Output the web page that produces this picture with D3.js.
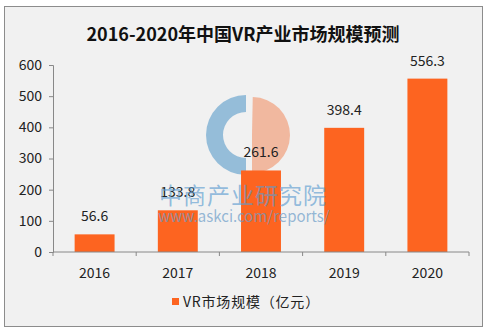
<!DOCTYPE html>
<html>
<head>
<meta charset="utf-8">
<script src="https://cdn.jsdelivr.net/npm/d3@7"></script>
<style>
  body { margin: 0; background: #fff; }
  text { font-family: "Noto Sans CJK SC", "Open Sans", sans-serif; }
</style>
</head>
<body>
<div id="chart"></div>
<script>
// Chart data
let years = ["2016", "2017", "2018", "2019", "2020"];
let marketSize = [56.6, 133.8, 261.6, 398.4, 556.3];
let yTicks = [0, 100, 200, 300, 400, 500, 600];
let titleText = "2016-2020年中国VR产业市场规模预测";
let legendText = "VR市场规模（亿元）";

let W = 489, H = 333;
let margin = {top: 65, right: 20, bottom: 81, left: 53};
let barColor = "#fd6420";

let svg = d3.select("#chart").append("svg")
    .attr("width", W)
    .attr("height", H);

// Outer frame
svg.append("rect")
    .attr("x", 4.5).attr("y", 6.5)
    .attr("width", 478).attr("height", 320)
    .attr("fill", "#f1f1f1")
    .attr("stroke", "#8c8c8c");

// Title
svg.append("text")
    .attr("x", 243).attr("y", 41)
    .attr("text-anchor", "middle")
    .attr("font-size", 18)
    .attr("font-weight", "bold")
    .attr("fill", "#111")
    .text(titleText);

// Scales
let x = d3.scaleBand()
    .domain(years)
    .range([margin.left, 469])
    .paddingInner(0.52)
    .paddingOuter(0.26);

let y = d3.scaleLinear()
    .domain([0, 600])
    .range([252, 65]);

// Watermark logo
let logo = svg.append("g").attr("transform", "translate(246,135)").attr("opacity", 0.7);
logo.append("path")
    .attr("d", d3.arc()({innerRadius: 23, outerRadius: 40, startAngle: Math.PI, endAngle: 2 * Math.PI}))
    .attr("fill", "#6fa8d0");
logo.append("path")
    .attr("transform", "translate(6,0)")
    .attr("d", d3.arc()({innerRadius: 0, outerRadius: 38, startAngle: 0.02, endAngle: Math.PI}))
    .attr("fill", "#f2a07d");

// Bars
svg.append("g").selectAll("rect")
    .data(marketSize)
    .enter().append("rect")
    .attr("x", (d, i) => x(years[i]))
    .attr("y", d => y(d))
    .attr("width", x.bandwidth())
    .attr("height", d => y(0) - y(d))
    .attr("fill", barColor);

// Value labels
svg.append("g").selectAll("text")
    .data(marketSize)
    .enter().append("text")
    .attr("x", (d, i) => x(years[i]) + x.bandwidth() / 2)
    .attr("y", d => y(d) - 13)
    .attr("text-anchor", "middle")
    .attr("font-size", 14)
    .attr("fill", "#222")
    .text(d => d3.format(".1f")(d));

// Watermark text
svg.append("text")
    .attr("x", 243).attr("y", 204)
    .attr("text-anchor", "middle")
    .attr("font-size", 23)
    .attr("fill", "#5b9bd0")
    .attr("fill-opacity", 0.65)
    .attr("letter-spacing", 1)
    .text("中商产业研究院");
svg.append("text")
    .attr("x", 244).attr("y", 222)
    .attr("text-anchor", "middle")
    .attr("font-size", 15)
    .attr("fill", "#6a9cc8")
    .attr("fill-opacity", 0.7)
    .text("www.askci.com/reports/");

// Y axis
let yAxis = svg.append("g")
    .attr("transform", "translate(" + margin.left + ",0)")
    .call(d3.axisLeft(y).tickValues(yTicks).tickSize(4).tickPadding(7));
yAxis.selectAll("text").attr("font-size", 14).attr("fill", "#222");
yAxis.selectAll("line, path").attr("stroke", "#888");

// X axis with ticks between categories
let xAxis = svg.append("g")
    .attr("transform", "translate(0," + y(0) + ")");
xAxis.append("line")
    .attr("x1", margin.left).attr("x2", 469)
    .attr("stroke", "#888");
let edges = years.map(d => x(d) - x.step() * x.paddingInner() / 2).concat([469]);
xAxis.selectAll(".tick")
    .data(edges)
    .enter().append("line")
    .attr("x1", d => d).attr("x2", d => d)
    .attr("y1", 0).attr("y2", 4)
    .attr("stroke", "#888");
xAxis.selectAll(".label")
    .data(years)
    .enter().append("text")
    .attr("x", d => x(d) + x.bandwidth() / 2)
    .attr("y", 26)
    .attr("text-anchor", "middle")
    .attr("font-size", 14)
    .attr("fill", "#222")
    .text(d => d);

// Legend
svg.append("rect")
    .attr("x", 172).attr("y", 298)
    .attr("width", 7).attr("height", 7)
    .attr("fill", barColor);
svg.append("text")
    .attr("x", 183).attr("y", 307)
    .attr("font-size", 14)
    .attr("letter-spacing", 0.8)
    .attr("fill", "#222")
    .text(legendText);
</script>
</body>
</html>
